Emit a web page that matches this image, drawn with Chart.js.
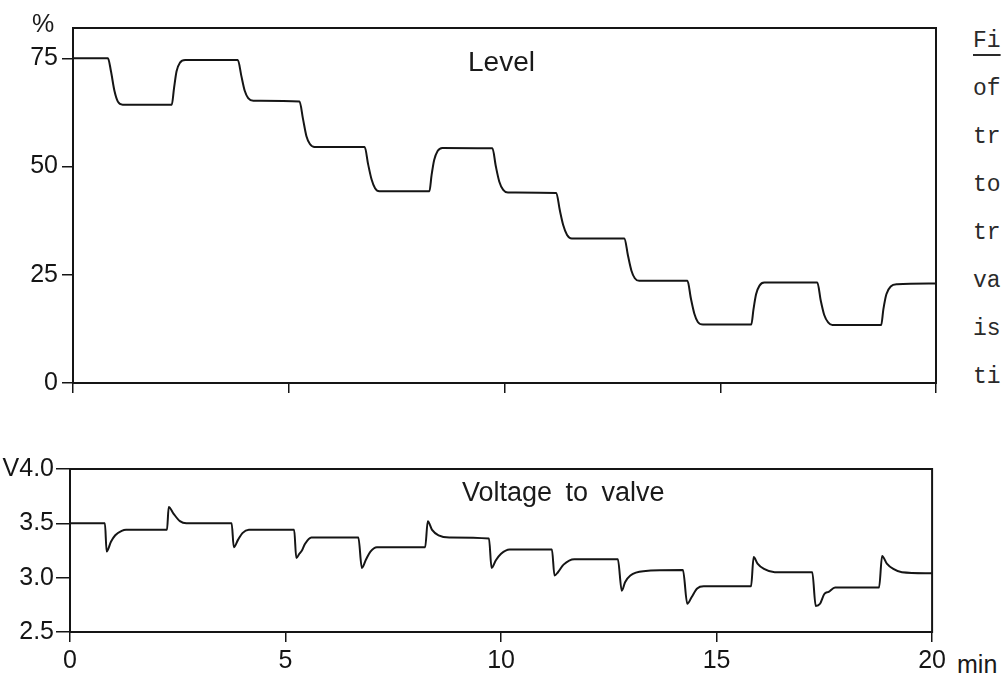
<!DOCTYPE html>
<html>
<head>
<meta charset="utf-8">
<script src="https://cdn.jsdelivr.net/npm/chart.js@4.4.1/dist/chart.umd.min.js"></script>
<style>
  html, body { margin: 0; padding: 0; background: #fff; overflow: hidden; }
  #wrap { position: relative; width: 1003px; height: 680px; overflow: hidden; }
  canvas { position: absolute; left: 0; }
  .lbl { position: absolute; white-space: nowrap; line-height: 1; color: #1a1a1a;
         font-family: "Liberation Sans", Arial, sans-serif; }
  .cap { position: absolute; white-space: nowrap; line-height: 1; color: #2a2a2a;
         font-family: "Liberation Mono", "DejaVu Sans Mono", monospace; font-size: 23px; left: 973px; }
</style>
</head>
<body>
<div id="wrap">
  <canvas id="levelChart" width="950" height="410" style="top:0"></canvas>
  <canvas id="voltChart" width="950" height="240" style="top:440px"></canvas>

  <div class="lbl" style="left:32px; top:11px; font-size:25px">%</div>
  <div class="lbl" style="left:468px; top:48px; font-size:28px">Level</div>
  <div class="lbl" style="left:462px; top:479px; font-size:27px; word-spacing:6px">Voltage to valve</div>
  <div class="lbl" style="left:957px; top:652px; font-size:25px">min</div>

  <div class="cap" style="top:30px; text-decoration:underline; text-underline-offset:7px">Fi</div>
  <div class="cap" style="top:78px">of</div>
  <div class="cap" style="top:126px">tr</div>
  <div class="cap" style="top:174px">to</div>
  <div class="cap" style="top:222px">tr</div>
  <div class="cap" style="top:270px">va</div>
  <div class="cap" style="top:318px">is</div>
  <div class="cap" style="top:366px">ti</div>
</div>

<script>
// ── Level (%) ─────────────────────────────────────────────────────
const levelT = [0, 0.81, 0.88, 0.96, 1.04, 1.15, 2.29, 2.34, 2.40, 2.48, 2.60,
  3.82, 3.90, 3.98, 4.06, 4.18, 5.25, 5.33, 5.41, 5.49, 5.60,
  6.76, 6.84, 6.92, 7.00, 7.10, 8.26, 8.31, 8.37, 8.45, 8.56,
  9.72, 9.80, 9.88, 9.97, 10.08, 11.20, 11.28, 11.36, 11.45, 11.56,
  12.78, 12.86, 12.94, 13.02, 13.12, 14.24, 14.32, 14.40, 14.48, 14.60,
  15.72, 15.77, 15.83, 15.91, 16.02, 17.25, 17.33, 17.41, 17.50, 17.60,
  18.73, 18.78, 18.85, 18.95, 19.10, 20];
const levelV = [75, 75, 72, 67.5, 65, 64.3, 64.3, 68, 72, 74, 74.6,
  74.6, 71, 67.5, 65.8, 65.2, 65, 61, 57, 55.2, 54.5,
  54.5, 50.5, 47, 45, 44.3, 44.3, 48, 51.5, 53.6, 54.3,
  54.2, 50, 46.5, 44.6, 44, 43.9, 40, 36.5, 34.2, 33.4,
  33.4, 29.5, 26, 24.2, 23.6, 23.6, 19.5, 16, 14.1, 13.5,
  13.5, 17, 20.5, 22.5, 23.2, 23.2, 19, 15.7, 14, 13.4,
  13.4, 17, 20.5, 22.3, 22.8, 23];

// ── Voltage to valve (V) ──────────────────────────────────────────
const voltT = [0, 0.81, 0.85, 0.95, 1.05, 1.20, 1.30, 2.25, 2.29, 2.40, 2.55, 2.70,
  3.75, 3.80, 3.90, 4.00, 4.15, 5.20, 5.25, 5.32, 5.38, 5.45, 5.60,
  6.69, 6.77, 6.87, 6.97, 7.12, 8.24, 8.30, 8.40, 8.55, 8.80,
  9.72, 9.78, 9.88, 10.00, 10.20, 11.18, 11.24, 11.32, 11.45, 11.70,
  12.71, 12.80, 12.88, 13.00, 13.30, 14.22, 14.32, 14.42, 14.55, 14.70,
  15.80, 15.86, 15.95, 16.10, 16.35, 16.80, 17.22, 17.30, 17.40, 17.50, 17.60, 17.75,
  18.77, 18.84, 18.95, 19.10, 19.30, 20];
const voltV = [3.5, 3.5, 3.24, 3.33, 3.39, 3.43, 3.44, 3.44, 3.65, 3.59, 3.52, 3.5,
  3.5, 3.28, 3.35, 3.41, 3.44, 3.44, 3.18, 3.22, 3.25, 3.31, 3.37,
  3.37, 3.09, 3.17, 3.24, 3.28, 3.28, 3.52, 3.44, 3.39, 3.37,
  3.36, 3.09, 3.16, 3.22, 3.26, 3.26, 3.02, 3.05, 3.12, 3.17,
  3.17, 2.88, 2.96, 3.02, 3.06, 3.07, 2.76, 2.82, 2.90, 2.92,
  2.92, 3.19, 3.13, 3.08, 3.05, 3.05, 3.05, 2.74, 2.76, 2.85, 2.87, 2.91,
  2.91, 3.20, 3.13, 3.08, 3.05, 3.04];

// ── Axis ticks ────────────────────────────────────────────────────
const levelTicks = [0, 25, 50, 75];
const voltTicks  = [2.5, 3.0, 3.5, 4.0];
const timeTicks  = [0, 5, 10, 15, 20];

const INK = '#151515';
const TICK_FONT = { family: '"Liberation Sans", Arial, sans-serif', size: 25 };

function toPoints(xs, ys) {
  return xs.map((x, i) => ({ x: x, y: ys[i] }));
}

// caja completa alrededor del área del gráfico
const framePlugin = {
  id: 'frame',
  afterDraw(chart) {
    const { ctx, chartArea: a } = chart;
    ctx.save();
    ctx.strokeStyle = INK;
    ctx.lineWidth = 2;
    ctx.strokeRect(a.left, a.top, a.right - a.left, a.bottom - a.top);
    ctx.restore();
  }
};

function traceDataset(xs, ys) {
  return {
    data: toPoints(xs, ys),
    borderColor: INK,
    borderWidth: 2,
    pointRadius: 0,
    fill: false,
    cubicInterpolationMode: 'monotone'
  };
}

function makeChart(id, xs, ys, opts) {
  return new Chart(document.getElementById(id), {
    type: 'line',
    data: { datasets: [traceDataset(xs, ys)] },
    plugins: [framePlugin],
    options: {
      responsive: false,
      animation: false,
      layout: { padding: opts.padding },
      plugins: { legend: { display: false }, tooltip: { enabled: false } },
      scales: {
        x: {
          type: 'linear', min: 0, max: 20,
          afterFit: s => { s.height = opts.xHeight; },
          afterBuildTicks: s => { s.ticks = timeTicks.map(v => ({ value: v })); },
          ticks: {
            font: TICK_FONT, color: INK, padding: 4, maxRotation: 0,
            callback: opts.xLabels ? (v => String(v)) : (() => '')
          },
          grid: { drawOnChartArea: false, drawTicks: true, tickLength: 10, color: INK, lineWidth: 1.5 },
          border: { color: INK, width: 2 }
        },
        y: {
          min: opts.yMin, max: opts.yMax,
          afterFit: s => { s.width = opts.yWidth; },
          afterBuildTicks: s => { s.ticks = opts.yTicks.map(v => ({ value: v })); },
          ticks: { font: TICK_FONT, color: INK, padding: opts.yPad, callback: opts.yFmt },
          grid: { drawOnChartArea: false, drawTicks: true, tickLength: opts.yTick, color: INK, lineWidth: 1.5 },
          border: { color: INK, width: 2 }
        }
      }
    }
  });
}

// panel superior: nivel
makeChart('levelChart', levelT, levelV, {
  padding: { top: 28, right: 14, left: 0, bottom: 0 },
  xHeight: 27, xLabels: false,
  yMin: 0, yMax: 82, yWidth: 73, yTicks: levelTicks, yPad: 4, yTick: 11,
  yFmt: v => String(v)
});

// panel inferior: voltaje a la válvula
makeChart('voltChart', voltT, voltV, {
  padding: { top: 29, right: 17, left: 0, bottom: 0 },
  xHeight: 48, xLabels: true,
  yMin: 2.5, yMax: 4.0, yWidth: 70, yTicks: voltTicks, yPad: 2, yTick: 14,
  yFmt: v => (v === 4 ? 'V4.0' : v.toFixed(1))
});
</script>
</body>
</html>
